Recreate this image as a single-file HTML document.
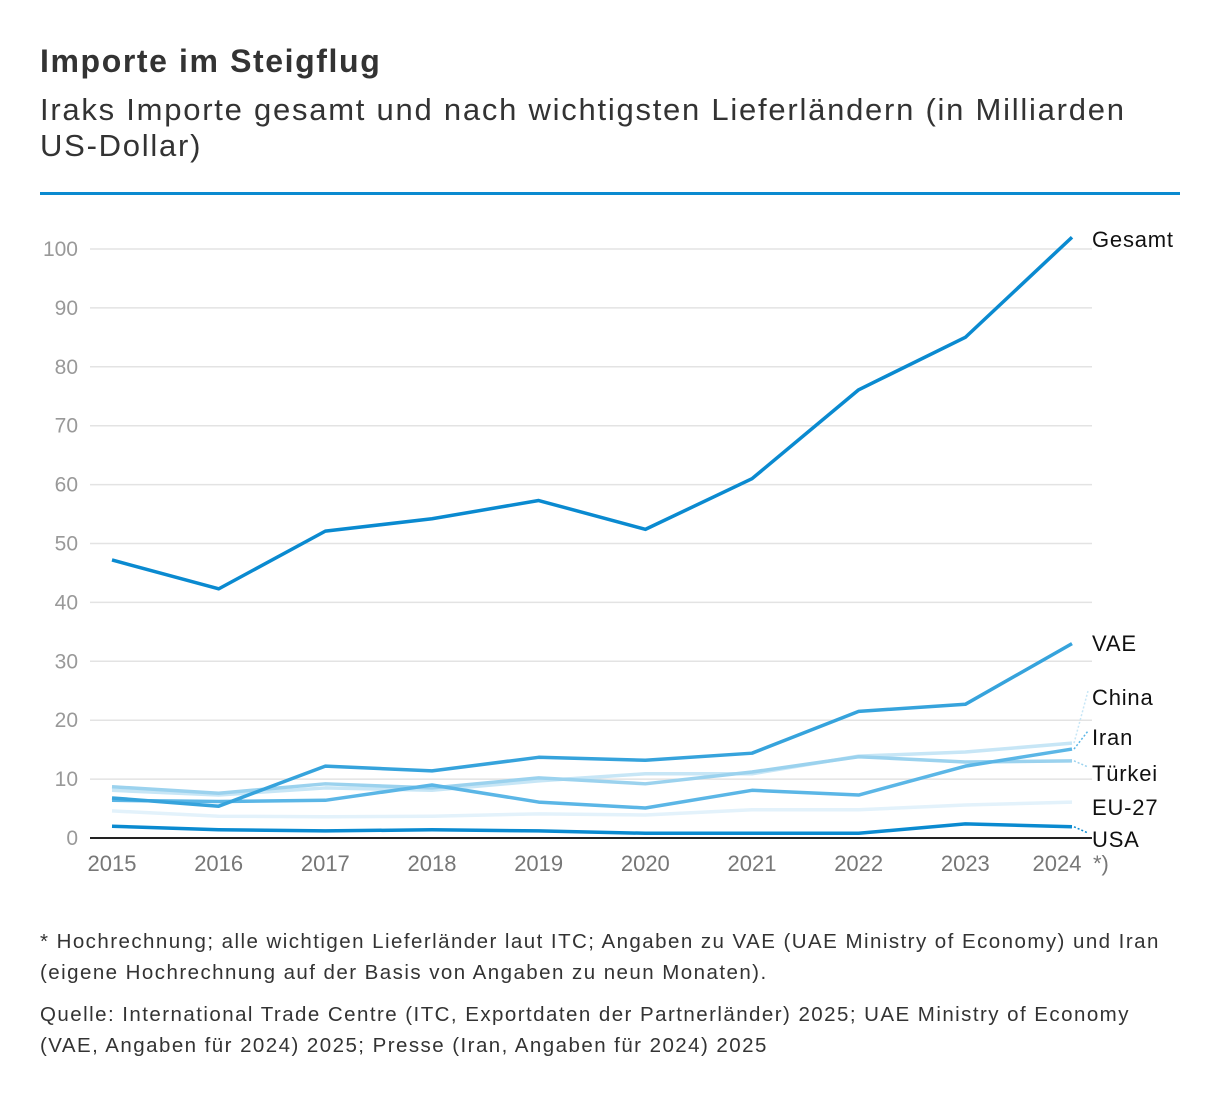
<!DOCTYPE html>
<html><head><meta charset="utf-8"><style>
body{margin:0;background:#fff;font-family:"Liberation Sans",sans-serif;}
.t{position:absolute;left:40px;color:#333;white-space:nowrap;}
</style></head><body>
<div style="position:relative;width:1220px;height:1102px;overflow:hidden">
<div class="t" style="top:43px;font-size:32px;font-weight:bold;letter-spacing:1.6px">Importe im Steigflug</div>
<div class="t" style="top:92px;font-size:31px;line-height:36px;letter-spacing:1.75px">Iraks Importe gesamt und nach wichtigsten Lieferländern (in Milliarden<br>US-Dollar)</div>
<div style="position:absolute;left:40px;top:192px;width:1140px;height:3px;background:#0a8ad0"></div>
<svg id="chart" width="1220" height="1102" style="position:absolute;left:0;top:0"></svg>
<div class="t" style="top:926px;font-size:20.5px;line-height:31px;letter-spacing:1.45px">* Hochrechnung; alle wichtigen Lieferländer laut ITC; Angaben zu VAE (UAE Ministry of Economy) und Iran<br>(eigene Hochrechnung auf der Basis von Angaben zu neun Monaten).</div>
<div class="t" style="top:999px;font-size:20.5px;line-height:31px;letter-spacing:1.45px">Quelle: International Trade Centre (ITC, Exportdaten der Partnerländer) 2025; UAE Ministry of Economy<br>(VAE, Angaben für 2024) 2025; Presse (Iran, Angaben für 2024) 2025</div>
</div>
<script>
const years=[2015,2016,2017,2018,2019,2020,2021,2022,2023,2024];
const yTicks=[0,10,20,30,40,50,60,70,80,90,100];
const gesamt=[47.2,42.3,52.1,54.2,57.3,52.4,61,76.1,85,102];
const vae=[6.8,5.4,12.2,11.4,13.7,13.2,14.4,21.5,22.7,33];
const iran=[6.4,6.2,6.4,9,6.1,5.1,8.1,7.3,12.2,15.1];
const tuerkei=[8.7,7.6,9.2,8.5,10.2,9.2,11.2,13.8,12.9,13.1];
const china=[8.1,7.3,8.5,8.1,9.7,10.9,10.9,13.9,14.6,16.1];
const eu27=[4.6,3.7,3.6,3.7,4.1,3.9,4.8,4.8,5.6,6.1];
const usa=[2,1.4,1.2,1.4,1.2,0.8,0.8,0.8,2.4,1.9];
const NS="http://www.w3.org/2000/svg";
const svg=document.getElementById('chart');
const x=y=>112+(y-2015)*(960/9);
const yS=v=>838-v*5.89;
function el(t,a,p){const e=document.createElementNS(NS,t);for(const k in a)e.setAttribute(k,a[k]);(p||svg).appendChild(e);return e;}
yTicks.forEach(v=>{
 if(v>0){const g=el('line',{x1:90,x2:1092,y1:yS(v),y2:yS(v),stroke:'#e3e3e3','stroke-width':1.5});
 
 }
 const t=el('text',{x:78,y:yS(v)+7,'text-anchor':'end','font-size':21,fill:'#999'});t.textContent=v;
 
 
});
years.forEach((yr,i)=>{const t=el('text',{x:x(yr)-(i===years.length-1?15:0),y:871,'text-anchor':'middle','font-size':22,fill:'#777'});t.textContent=yr;
 
 });
const star=el('text',{x:1093,y:871,'font-size':22,fill:'#777'});star.textContent='*)';


const series=[
 [eu27,'#e3f2fb','EU-27',807],[china,'#c7e6f6','China',697],[tuerkei,'#9bd2ee','Türkei',773],
 [iran,'#5bb6e6','Iran',737],[vae,'#36a3dc','VAE',643],[usa,'#0a8ad0','USA',839],[gesamt,'#0a8ad0','Gesamt',239]];
series.forEach(([d,c,n,ly])=>{
 const p=el('polyline',{points:d.map((v,i)=>x(years[i])+','+yS(v)).join(' '),fill:'none',stroke:c,'stroke-width':3.5,'stroke-linejoin':'round'});
 
 
 const ey=yS(d[d.length-1]);
 if(Math.abs(ey-ly)>6){const l=el('line',{x1:1074,y1:ey,x2:1088,y2:ly-6,stroke:c==='#e3f2fb'?'#c7e6f6':c,'stroke-width':1.5,'stroke-dasharray':'2,2'});
 
 }
 const t=el('text',{x:1092,y:ly+8,'font-size':22,fill:'#111','letter-spacing':'0.8px'});t.textContent=n;
 
 
});
const ax=el('line',{x1:90,x2:1092,y1:838,y2:838,stroke:'#222','stroke-width':2});


</script>
</body></html>
